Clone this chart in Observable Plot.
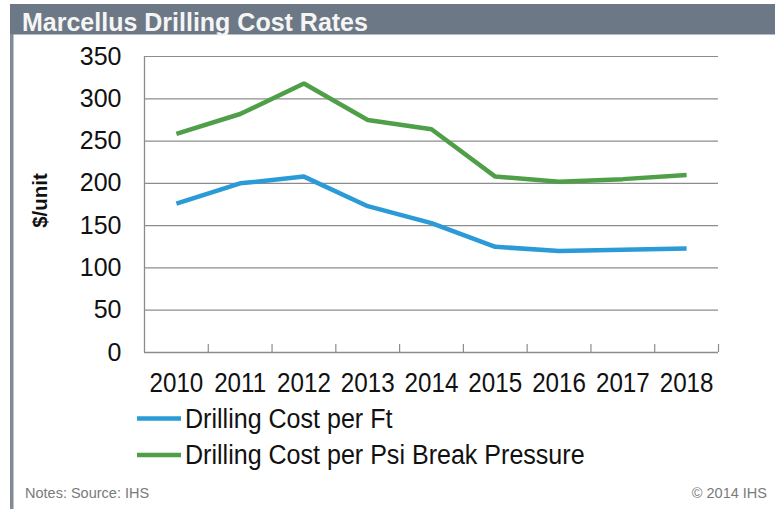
<!DOCTYPE html>
<html>
<head>
<meta charset="utf-8">
<script src="https://cdn.jsdelivr.net/npm/d3@7"></script>
<script src="https://cdn.jsdelivr.net/npm/@observablehq/plot@0.6"></script>
<style>
  html, body { margin: 0; padding: 0; background: #fff; }
  #page { position: relative; width: 775px; height: 509px; overflow: hidden; background: #fff;
          font-family: "Liberation Sans", Arial, Helvetica, sans-serif; }
  #chart { position: absolute; left: 0; top: 35px; }
  #deco { position: absolute; left: 0; top: 0; pointer-events: none; }
</style>
</head>
<body>
<div id="page">
  <div id="chart"></div>
  <svg id="deco" width="775" height="509"></svg>
</div>
<script>
// ---- data ----
const years = [2010, 2011, 2012, 2013, 2014, 2015, 2016, 2017, 2018];
const costPerFt = [176, 200, 208, 173, 153, 125, 120, 121.5, 123];
const costPerPsi = [258.5, 282, 318, 275, 264, 208, 202, 205, 210];
const seriesNames = ["Drilling Cost per Ft", "Drilling Cost per Psi Break Pressure"];
const seriesColors = ["#2a9bd6", "#4f9f49"];
const yTicks = [0, 50, 100, 150, 200, 250, 300, 350];
const titleText = "Marcellus Drilling Cost Rates";
const yLabel = "$/unit";
const notesText = "Notes: Source: IHS";
const copyText = "\u00A9 2014 IHS";

// ---- derived table ----
const table = [];
years.forEach((yr, i) => {
  table.push({ year: yr, value: costPerFt[i], series: seriesNames[0] });
});
years.forEach((yr, i) => {
  table.push({ year: yr, value: costPerPsi[i], series: seriesNames[1] });
});
const xDomain = [years[0] - 0.5, years[years.length - 1] + 0.5];
const bandEdges = years.map(y => y + 0.5);

const W = 775, H = 375, mT = 21, mB = 58, mL = 144, mR = 57;
const innerH = H - mT - mB;
const gridColor = "#8c8c8c";

const plot = Plot.plot({
  width: W, height: H,
  marginLeft: mL, marginRight: mR, marginTop: mT, marginBottom: mB,
  x: { domain: xDomain },
  y: { domain: [0, 350] },
  color: { domain: seriesNames, range: seriesColors },
  style: { fontFamily: '"Liberation Sans", Arial, sans-serif', background: "transparent", overflow: "visible", color: "#111" },
  marks: [
    Plot.ruleY(yTicks.filter(d => d > 0), { stroke: gridColor, strokeWidth: 1.2 }),
    Plot.ruleY([0], { stroke: gridColor, strokeWidth: 1.3 }),
    Plot.ruleX([xDomain[0]], { stroke: gridColor, strokeWidth: 1.3 }),
    Plot.ruleX(bandEdges, { stroke: gridColor, strokeWidth: 1.2, insetTop: innerH - 8 }),
    Plot.axisY({ ticks: yTicks, tickSize: 0, tickPadding: 23, fontSize: 25, fill: "#111", tickFormat: d => String(d), label: null }),
    Plot.axisX({ ticks: years, tickSize: 0, tickPadding: 20, fontSize: 27.5, fill: "#111", tickFormat: d => String(d), label: null }),
    Plot.line(table, { x: "year", y: "value", z: "series", stroke: "series", strokeWidth: 4.5, strokeLinejoin: "miter", strokeLinecap: "butt" }),
    Plot.text([yLabel], { frameAnchor: "left", textAnchor: "middle", dx: -104, dy: -4, rotate: -90, fontWeight: "bold", fontSize: 20.5, fill: "#111" })
  ]
});
document.getElementById("chart").appendChild(plot);

// squeeze x tick labels horizontally (narrow type in the reference)
d3.select(plot).selectAll('g[aria-label="x-axis tick label"] text').each(function () {
  const t = this.getAttribute("transform") || "";
  this.setAttribute("transform", t + " scale(0.88,1)");
});

// ---- decorations: title bar, border, legend, footer ----
const deco = d3.select("#deco");
deco.append("rect").attr("x", 10).attr("y", 4).attr("width", 765).attr("height", 30.5).attr("fill", "#6d7886");
deco.append("rect").attr("x", 10).attr("y", 34).attr("width", 3.5).attr("height", 475).attr("fill", "#808b97");
deco.append("text").attr("x", 22).attr("y", 30.5).attr("fill", "#f5f5f5")
  .attr("font-size", 25).attr("font-weight", "bold").text(titleText);

const legendRows = [418.5, 455];
seriesNames.forEach((name, i) => {
  const g = deco.append("g");
  g.append("line").attr("x1", 137).attr("x2", 181).attr("y1", legendRows[i]).attr("y2", legendRows[i])
    .attr("stroke", seriesColors[i]).attr("stroke-width", 4.5);
  g.append("text").attr("transform", `translate(185,${legendRows[i] + 9}) scale(0.895,1)`)
    .attr("font-size", 28).attr("fill", "#111").text(name);
});

deco.append("text").attr("x", 25).attr("y", 498).attr("font-size", 14.5).attr("fill", "#7a7a7a").text(notesText);
deco.append("text").attr("x", 767).attr("y", 498).attr("font-size", 14.5).attr("fill", "#7a7a7a")
  .attr("text-anchor", "end").text(copyText);
</script>
</body>
</html>
